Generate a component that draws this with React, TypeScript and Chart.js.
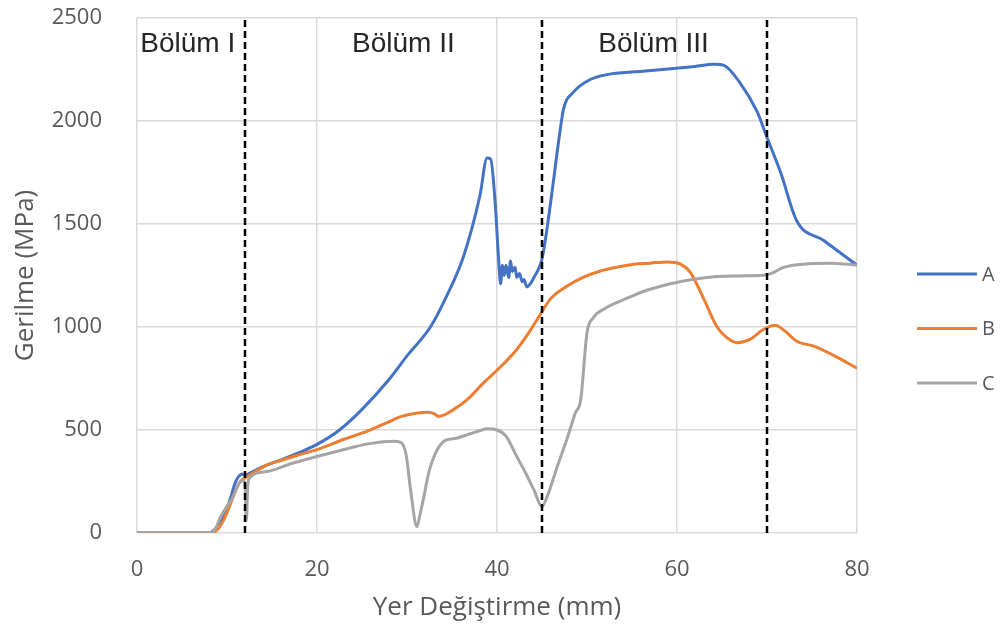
import React, { useEffect, useRef } from "react";
import { Chart, registerables } from "chart.js";

Chart.register(...registerables);

// ---- Data -------------------------------------------------------------
const seriesNames = ["A", "B", "C"];
const seriesColors = ["#4472C4", "#ED7D31", "#A5A5A5"];

const aX = [0, 8, 8.6, 9.2, 9.8, 10.4, 10.9, 11.3, 11.7, 12, 12.5, 14, 16, 18, 20, 22.5, 25, 28, 30, 32.6, 34.4, 36.3, 38.1, 38.9, 39.3, 39.8, 40.2, 40.4, 40.6, 40.8, 41.0, 41.3, 41.5, 41.7, 42.0, 42.2, 42.5, 42.8, 43.0, 43.3, 43.7, 44.1, 44.6, 45, 45.55, 46.3, 47.0, 47.4, 48.5, 50.3, 52.2, 55.9, 59.6, 62, 64.1, 65.2, 67, 68.9, 70, 71.5, 73.3, 76.3, 80];
const aY = [0, 0, 15, 45, 96, 170, 242, 275, 287, 280, 290, 322, 355, 390, 430, 500, 600, 745, 860, 1000, 1150, 1345, 1637, 1820, 1815, 1600, 1313, 1210, 1300, 1250, 1300, 1240, 1320, 1270, 1290, 1240, 1260, 1220, 1230, 1195, 1210, 1240, 1280, 1330, 1475, 1718, 1950, 2060, 2140, 2200, 2225, 2240, 2255, 2265, 2275, 2270, 2185, 2045, 1920, 1752, 1516, 1420, 1300];

const bX = [0, 8.3, 9, 9.6, 10.2, 10.8, 11.4, 11.9, 12.3, 14.4, 16, 18, 20, 23, 25.6, 28, 29.3, 30.5, 32.2, 33.0, 33.5, 35.2, 37, 38.5, 40, 42.2, 43.5, 44.8, 45.9, 47.8, 49.5, 51.5, 53.5, 55.2, 57, 58.9, 60.4, 61.5, 63, 64.4, 65.5, 66.7, 68.1, 69.6, 70.9, 72, 73.3, 75.2, 77.5, 80];
const bY = [0, 0, 20, 60, 120, 190, 245, 265, 275, 330, 352, 380, 405, 455, 495, 540, 565, 578, 586, 580, 566, 600, 660, 729, 790, 891, 970, 1060, 1134, 1199, 1240, 1272, 1292, 1305, 1310, 1316, 1305, 1264, 1134, 1004, 950, 924, 940, 988, 1008, 980, 931, 907, 860, 800];

const cX = [0, 8.1, 8.7, 9.3, 10, 10.7, 11.2, 11.7, 12.0, 12.15, 12.3, 12.5, 14.4, 17, 20, 23.7, 26, 28.5, 29.3, 29.9, 30.4, 31.1, 31.4, 31.8, 32.4, 33, 34.1, 35.5, 36.7, 38, 38.9, 40, 41, 42.2, 43.2, 44.1, 45, 45.6, 46.7, 47.8, 48.7, 49.3, 50, 50.7, 52, 53.3, 55, 57, 60.7, 64.4, 67, 69.6, 70.5, 71.8, 74, 77, 80];
const cY = [0, 0, 20, 79, 130, 177, 230, 255, 240, 60, 220, 268, 298, 335, 371, 413, 435, 445, 440, 380, 209, 31, 80, 161, 290, 371, 445, 460, 477, 495, 506, 500, 470, 371, 290, 209, 128, 180, 323, 460, 583, 647, 972, 1045, 1090, 1118, 1150, 1183, 1223, 1245, 1248, 1251, 1260, 1289, 1305, 1310, 1300];

const dividerX = [12, 45, 70];
const sectionLabels = ["Bölüm I", "Bölüm II", "Bölüm III"];
const sectionLabelX = [5.64, 29.6, 57.4];
const sectionLabelY = 2371;

const xMin = 0;
const xMax = 80;
const xStep = 20;
const yMin = 0;
const yMax = 2500;
const yStep = 500;

const xTitle = "Yer Değiştirme (mm)";
const yTitle = "Gerilme (MPa)";

// ---- Helpers -----------------------------------------------------------
const toPoints = (xs: number[], ys: number[]) => xs.map((x, i) => ({ x, y: ys[i] }));

const FONT = "'Open Sans', 'DejaVu Sans', sans-serif";

const sectionLabelPlugin = {
  id: "sectionLabels",
  afterDatasetsDraw(chart: any) {
    const { ctx, scales } = chart;
    ctx.save();
    ctx.font = "28px 'Liberation Sans', Arial, sans-serif";
    ctx.fillStyle = "#262626";
    ctx.textAlign = "center";
    ctx.textBaseline = "middle";
    sectionLabels.forEach((t, i) => {
      ctx.fillText(t, scales.x.getPixelForValue(sectionLabelX[i]), scales.y.getPixelForValue(sectionLabelY));
    });
    ctx.restore();
  },
};

const legendPlugin = {
  id: "sideLegend",
  afterDraw(chart: any) {
    const { ctx } = chart;
    const left = 917;
    const top = 274;
    const gap = 54.5;
    const len = 60;
    ctx.save();
    ctx.font = `20px ${FONT}`;
    ctx.textAlign = "left";
    ctx.textBaseline = "middle";
    seriesNames.forEach((name, i) => {
      const y = top + i * gap;
      ctx.strokeStyle = seriesColors[i];
      ctx.lineWidth = 3;
      ctx.beginPath();
      ctx.moveTo(left, y);
      ctx.lineTo(left + len, y);
      ctx.stroke();
      ctx.fillStyle = "#595959";
      ctx.fillText(name, left + len + 5, y + 1);
    });
    ctx.restore();
  },
};

export default function App() {
  const ref = useRef<HTMLCanvasElement | null>(null);

  useEffect(() => {
    if (!ref.current) return;
    const seriesX = [aX, bX, cX];
    const seriesY = [aY, bY, cY];
    const lineSets = seriesNames.map((name, i) => ({
      label: name,
      data: toPoints(seriesX[i], seriesY[i]),
      borderColor: seriesColors[i],
      backgroundColor: seriesColors[i],
      borderWidth: 3,
      pointRadius: 0,
      showLine: true,
      fill: false,
      cubicInterpolationMode: "monotone",
      order: 3 - i,
    }));
    const dividerSets = dividerX.map((x) => ({
      label: "div" + x,
      data: [
        { x, y: yMin },
        { x, y: yMax },
      ],
      borderColor: "#000000",
      borderWidth: 2.5,
      borderDash: [7, 4],
      pointRadius: 0,
      showLine: true,
      fill: false,
      order: 0,
    }));

    const chart = new Chart(ref.current, {
      type: "scatter",
      data: { datasets: [...lineSets, ...dividerSets] as any },
      options: {
        responsive: false,
        animation: false,
        layout: { padding: { top: 18, right: 146, left: 0, bottom: 0 } },
        plugins: {
          legend: { display: false },
          tooltip: { enabled: false },
        },
        scales: {
          x: {
            type: "linear",
            min: xMin,
            max: xMax,
            ticks: {
              stepSize: xStep,
              color: "#595959",
              font: { family: FONT, size: 22 },
              padding: 24,
              callback: (v: any) => String(v),
            },
            grid: { color: "#D9D9D9", lineWidth: 1.5, drawTicks: false },
            border: { display: false },
            title: {
              display: true,
              text: xTitle,
              color: "#595959",
              font: { family: FONT, size: 26 },
              padding: { top: 0, bottom: 15 },
            },
            afterFit: (s: any) => {
              s.height = 105;
              s.paddingLeft = 0;
              s.paddingRight = 0;
            },
          },
          y: {
            type: "linear",
            min: yMin,
            max: yMax,
            ticks: {
              stepSize: yStep,
              color: "#595959",
              font: { family: FONT, size: 22 },
              padding: 35,
              callback: (v: any) => String(v),
            },
            grid: { color: "#D9D9D9", lineWidth: 1.5, drawTicks: false },
            border: { display: false },
            title: {
              display: true,
              text: yTitle,
              color: "#595959",
              font: { family: FONT, size: 26 },
              padding: { top: 10, bottom: 0 },
            },
            afterFit: (s: any) => {
              s.width = 137;
              s.paddingTop = 0;
              s.paddingBottom = 0;
            },
          },
        },
      },
      plugins: [sectionLabelPlugin, legendPlugin],
    });
    return () => chart.destroy();
  }, []);

  return (
    <div style={{ position: "absolute", left: 0, top: 0, width: 1003, height: 638, background: "#ffffff" }}>
      <canvas ref={ref} width={1003} height={638} />
    </div>
  );
}
